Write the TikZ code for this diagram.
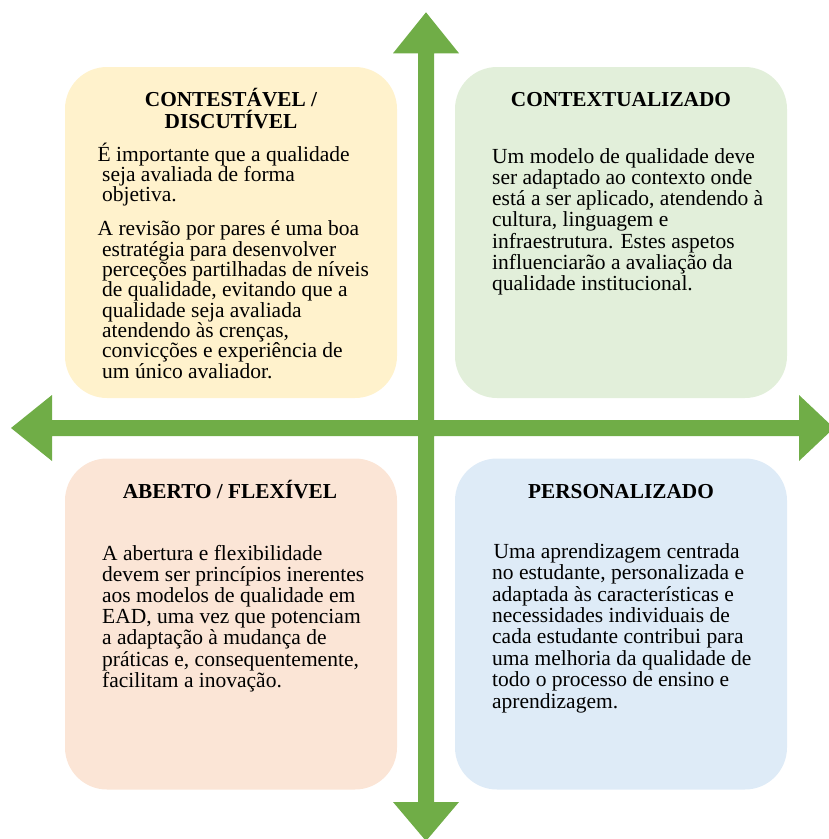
\documentclass[tikz,border=0pt]{standalone}
\usepackage{fontspec}
\setmainfont{Liberation Serif}
\definecolor{axisgreen}{HTML}{70AD47}
\definecolor{cyellow}{HTML}{FFF2CC}
\definecolor{cgreen}{HTML}{E2EFDA}
\definecolor{cpeach}{HTML}{FBE5D6}
\definecolor{cblue}{HTML}{DEEBF7}
\begin{document}
\begin{tikzpicture}[x=1pt,y=-1pt,
  box/.style={rounded corners=42pt, minimum width=332pt, minimum height=331pt, inner sep=0pt, draw=none},
  body/.style={anchor=base west, align=left, inner sep=0pt, font=\fontsize{21.5pt}{21.2pt}\selectfont},
  ttl/.style={anchor=base, align=center, inner sep=0pt, font=\fontsize{21.3pt}{22pt}\selectfont\bfseries}]
\useasboundingbox (0,0) rectangle (829,839);
\clip (0,0) rectangle (829,839);
% quadrant boxes
\node[box, fill=cyellow] (tl) at (231,232.5) {};
\node[box, fill=cgreen]  (tr) at (621,232.5) {};
\node[box, fill=cpeach]  (bl) at (231,624) {};
\node[box, fill=cblue]   (br) at (621,624) {};
% axes
\coordinate (c) at (426,428);
\fill[axisgreen] (418,53.3) -- (393,53.3) -- (426,12.3) -- (459,53.3) -- (434,53.3)
  -- (434,420) -- (799,420) -- (799,395) -- (834,428) -- (799,461) -- (799,436)
  -- (434,436) -- (434,802) -- (459,802) -- (426,841) -- (393,802) -- (418,802)
  -- (418,436) -- (52,436) -- (52,461) -- (11,428) -- (52,395) -- (52,420)
  -- (418,420) -- cycle;
% top left (base anchor = baseline of last line)
\node[ttl] (tlt) at (231,128) {CONTESTÁVEL /\\DISCUTÍVEL};
\node[body, font=\fontsize{21.5pt}{20pt}\selectfont] (tlb1) at (102,201) {\hspace*{-4.5pt}É importante que a qualidade\\seja avaliada de forma\\objetiva.};
\node[body, font=\fontsize{21.5pt}{20.3pt}\selectfont] (tlb2) at (102,378) {\hspace*{-4.5pt}A revisão por pares é uma boa\\estratégia para desenvolver\\perceções partilhadas de níveis\\de qualidade, evitando que a\\qualidade seja avaliada\\atendendo às crenças,\\convicções e experiência de\\um único avaliador.};
% top right
\node[ttl] (trt) at (621,106.7) {CONTEXTUALIZADO};
\node[body] (trb) at (492,290.5) {Um modelo de qualidade deve\\ser adaptado ao contexto onde\\está a ser aplicado, atendendo à\\cultura, linguagem e\\infraestrutura. Estes aspetos\\influenciarão a avaliação da\\qualidade institucional.};
% bottom left
\node[ttl] (blt) at (230,498.3) {ABERTO / FLEXÍVEL};
\node[body] (blb) at (102,687.2) {A abertura e flexibilidade\\devem ser princípios inerentes\\aos modelos de qualidade em\\EAD, uma vez que potenciam\\a adaptação à mudança de\\práticas e, consequentemente,\\facilitam a inovação.};
% bottom right
\node[ttl] (brt) at (621,498.3) {PERSONALIZADO};
\node[body, font=\fontsize{21.5pt}{21.4pt}\selectfont] (brb) at (492,708.1) {\hspace*{1.5pt}Uma aprendizagem centrada\\no estudante, personalizada e\\adaptada às características e\\necessidades individuais de\\cada estudante contribui para\\uma melhoria da qualidade de\\todo o processo de ensino e\\aprendizagem.};
\end{tikzpicture}
\end{document}
